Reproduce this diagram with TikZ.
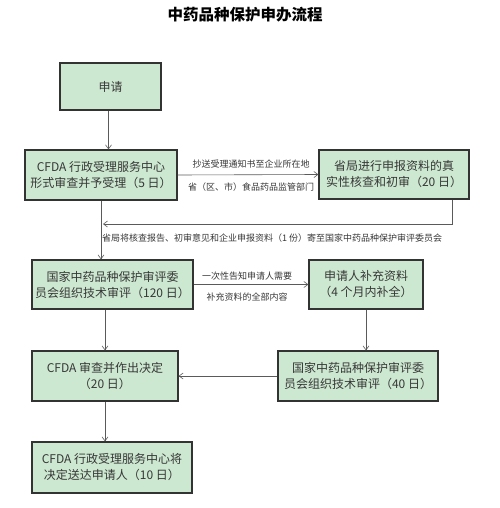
\documentclass[tikz,border=0pt]{standalone}
\usepackage{fontspec}
\setmainfont{Noto Sans CJK SC}
\usetikzlibrary{positioning,arrows.meta,calc}
\definecolor{boxfill}{RGB}{205,232,208}
\definecolor{boxline}{RGB}{51,51,51}
\definecolor{boxtext}{RGB}{55,55,55}
\definecolor{flowline}{RGB}{90,90,90}

\begin{document}
\begin{tikzpicture}[x=1pt,y=-1pt]
\tikzset{box/.style={draw=boxline,fill=boxfill,line width=1.2pt,text=boxtext,font=\fontsize{12}{16}\selectfont,align=center,inner sep=0pt}}
\tikzset{flow/.style={draw=flowline,line width=0.6pt,-{Straight Barb[length=4pt,width=6pt]}}}
\tikzset{lbl/.style={text=boxtext,font=\fontsize{9}{11}\selectfont,inner sep=1pt}}
\useasboundingbox (0,0) rectangle (499,508);

% title
\node (title) [font=\fontsize{15.5}{18}\selectfont\bfseries] at (245,15) {中药品种保护申办流程};

% boxes
\node (apply) [box,minimum width=101pt,minimum height=47pt] at (110.5,86.5) {申请};
\node (accept) [box,minimum width=152pt,minimum height=50pt] at (101,175) {CFDA 行政受理服务中心\\形式审查并予受理（5 日）};
\node (check) [box,minimum width=150pt,minimum height=49pt] at (394,174.5) {省局进行申报资料的真\\实性核查和初审（20 日）};
\node (review) [box,minimum width=161pt,minimum height=49pt] at (112.5,284.5) {国家中药品种保护审评委\\员会组织技术审评（120 日）};
\node (supply) [box,minimum width=114pt,minimum height=49pt] at (366,284.5) {申请人补充资料\\（4 个月内补全）};
\node (rereview) [box,minimum width=160pt,minimum height=50pt] at (358,376) {国家中药品种保护审评委\\员会组织技术审评（40 日）};
\node (decide) [box,minimum width=146pt,minimum height=50pt] at (105,376) {CFDA 审查并作出决定\\（20 日）};
\node (notify) [box,minimum width=160pt,minimum height=51pt] at (112,467.5) {CFDA 行政受理服务中心将\\决定送达申请人（10 日）};

% connectors
\coordinate (down) at ($(apply.south)+(-2,0)$);
\coordinate (up) at ($(check.south)+(58,0)$);
\coordinate (back) at (103,224);
\draw[flow] (down) -- (down |- accept.north);
\draw[flow] (accept.east) -- (check.west);
\draw[flow] (up) |- (back);
\draw[flow] (accept.south) -- (accept.south |- review.north);
\draw[flow] (review.east) -- (review.east -| supply.west);
\draw[flow] (supply.south) -- (supply.south |- rereview.north);
\draw[flow] (decide.north |- review.south) -- (decide.north);
\draw[flow] (rereview.west) -- (decide.east);
\draw[flow] (decide.south) -- (decide.south |- notify.north);

% labels
\node (copy1) [lbl] at (251,164) {抄送受理通知书至企业所在地};
\node (copy2) [lbl] at (251,187) {省（区、市）食品药品监管部门};
\node (send) [lbl,anchor=west] at (101,238) {省局将核查报告、初审意见和企业申报资料（1 份）寄至国家中药品种保护审评委员会};
\node (tell1) [lbl] at (247,276) {一次性告知申请人需要};
\node (tell2) [lbl] at (247,297) {补充资料的全部内容};
\end{tikzpicture}
\end{document}
